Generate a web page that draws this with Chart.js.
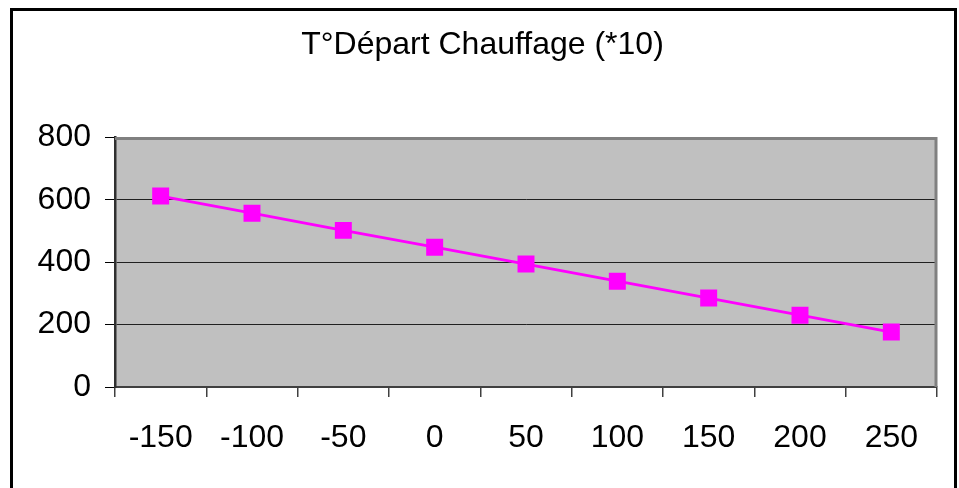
<!DOCTYPE html>
<html>
<head>
<meta charset="utf-8">
<script src="https://cdn.jsdelivr.net/npm/chart.js@4"></script>
<style>
    html, body { margin: 0; padding: 0; background: #fff; }
    canvas { display: block; }
</style>
</head>
<body>
<canvas id="chart" width="959" height="488"></canvas>
<script>
const categories = ["-150", "-100", "-50", "0", "50", "100", "150", "200", "250"];
const departValues = [612, 557, 502, 448, 394, 339, 285, 230, 176];
const yTicks = [0, 200, 400, 600, 800];

const FONT = "'Liberation Sans', Arial, sans-serif";

// grey plot area + outer frame, Excel style
const excelFrame = {
    id: "excelFrame",
    beforeDraw(chart) {
        const { ctx, chartArea: a } = chart;
        ctx.save();
        ctx.fillStyle = "#fff";
        ctx.fillRect(0, 0, chart.width, chart.height);
        ctx.fillStyle = "#c0c0c0";
        ctx.fillRect(a.left, a.top, a.right - a.left, a.bottom - a.top);
        ctx.restore();
    },
    afterDatasetsDraw(chart) {
        const { ctx, chartArea: a } = chart;
        ctx.save();
        ctx.strokeStyle = "#808080";
        ctx.lineWidth = 3;
        ctx.beginPath();
        ctx.moveTo(a.left, a.top + 1);
        ctx.lineTo(a.right - 1, a.top + 1);
        ctx.lineTo(a.right - 1, a.bottom);
        ctx.stroke();
        ctx.restore();
    },
    afterDraw(chart) {
        const ctx = chart.ctx;
        ctx.save();
        ctx.strokeStyle = "#000";
        ctx.lineWidth = 3;
        ctx.strokeRect(11.5, 9.5, 944, 490);
        ctx.restore();
    },
};

new Chart(document.getElementById("chart").getContext("2d"), {
    type: "line",
    data: {
        labels: categories,
        datasets: [
            {
                data: departValues,
                borderColor: "#ff00ff",
                backgroundColor: "#ff00ff",
                borderWidth: 2.8,
                pointStyle: "rect",
                pointRadius: 12,
                pointBorderWidth: 0,
                tension: 0,
            },
        ],
    },
    options: {
        responsive: false,
        animation: false,
        layout: { padding: { left: 14, right: 8, top: 0, bottom: 0 } },
        plugins: {
            legend: { display: false },
            tooltip: { enabled: false },
            title: {
                display: true,
                text: "T°Départ Chauffage (*10)",
                color: "#000",
                font: { family: FONT, size: 32, weight: "normal" },
                padding: { top: 26, bottom: 73 },
            },
        },
        scales: {
            x: {
                type: "category",
                offset: true,
                afterFit(scale) { scale.height = 101; },
                grid: {
                    offset: true,
                    drawOnChartArea: false,
                    drawTicks: true,
                    tickLength: 10,
                    color: "#404040",
                    lineWidth: 1.5,
                },
                border: { color: "#404040", width: 2 },
                ticks: {
                    color: "#000",
                    padding: 22,
                    maxRotation: 0,
                    autoSkip: false,
                    font: { family: FONT, size: 32 },
                },
            },
            y: {
                min: 0,
                max: 800,
                afterFit(scale) { scale.width = 101; },
                afterBuildTicks(scale) {
                    scale.ticks = yTicks.map((v) => ({ value: v }));
                },
                grid: {
                    color: (c) => (c.tick && c.tick.value === 800 ? "#808080" : "#202020"),
                    lineWidth: 1,
                    tickLength: 10,
                    tickColor: "#000",
                },
                border: { color: "#303030", width: 2.5 },
                ticks: {
                    color: "#000",
                    padding: 14,
                    font: { family: FONT, size: 32 },
                },
            },
            // empty right-side axis keeps the plot off the right edge
            // without shifting the centred title
            yRight: {
                position: "right",
                min: 0,
                max: 800,
                afterFit(scale) { scale.width = 14; },
                grid: { drawOnChartArea: false, drawTicks: false },
                border: { display: false },
                ticks: { display: false },
            },
        },
    },
    plugins: [excelFrame],
});
</script>
</body>
</html>
